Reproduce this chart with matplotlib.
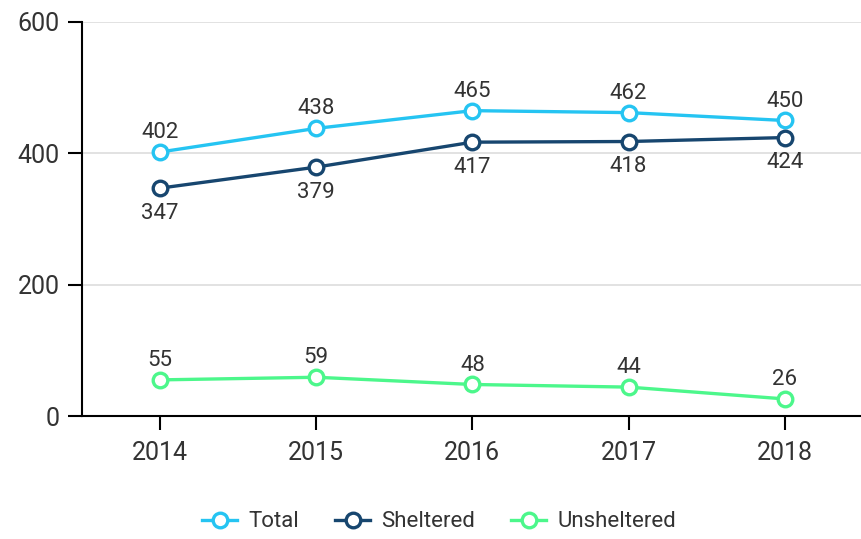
import matplotlib.pyplot as plt

years = ["2014", "2015", "2016", "2017", "2018"]
total = [402, 438, 465, 462, 450]
sheltered = [347, 379, 417, 418, 424]
unsheltered = [55, 59, 48, 44, 26]

plt.rcParams["font.family"] = ["Roboto", "DejaVu Sans"]

fig = plt.figure(figsize=(8.61, 5.39), dpi=100)
ax = fig.add_axes([0.0952, 0.2282, 0.907, 0.731])

x = list(range(len(years)))
series = [
    ("Total", total, "#25c4f2", 14),
    ("Sheltered", sheltered, "#17466f", -18),
    ("Unsheltered", unsheltered, "#4cf78b", 14),
]
for name, vals, color, off in series:
    ax.plot(x, vals, color=color, lw=2.4, marker="o", ms=10.5, mfc="white",
            mec=color, mew=2.4, label=name, zorder=3)
    for xi, v in zip(x, vals):
        ax.annotate(str(v), (xi, v), xytext=(0, off), textcoords="offset points",
                    ha="center", va="center", fontsize=16, color="#333333")

ax.set_xlim(-0.5, 4.5)
ax.set_ylim(0, 600)
ax.set_yticks([0, 200, 400, 600])
ax.set_xticks(x)
ax.set_xticklabels(years)
ax.grid(axis="y", color="#dddddd", lw=1.2)
ax.set_axisbelow(True)
for s in ["top", "right"]:
    ax.spines[s].set_visible(False)
for s in ["left", "bottom"]:
    ax.spines[s].set_linewidth(1.5)
ax.tick_params(axis="both", length=10, width=1.5, labelsize=18, colors="#333333")
ax.tick_params(axis="both", color="black")
ax.tick_params(axis="x", pad=8)
ax.tick_params(axis="y", pad=6)

leg = fig.legend(loc="lower center", bbox_to_anchor=(0.51, -0.025), ncol=3,
                 frameon=False, fontsize=16, handlelength=1.6, handletextpad=0.5,
                 columnspacing=1.6, labelcolor="#333333")

fig.savefig("out.png", dpi=100)
